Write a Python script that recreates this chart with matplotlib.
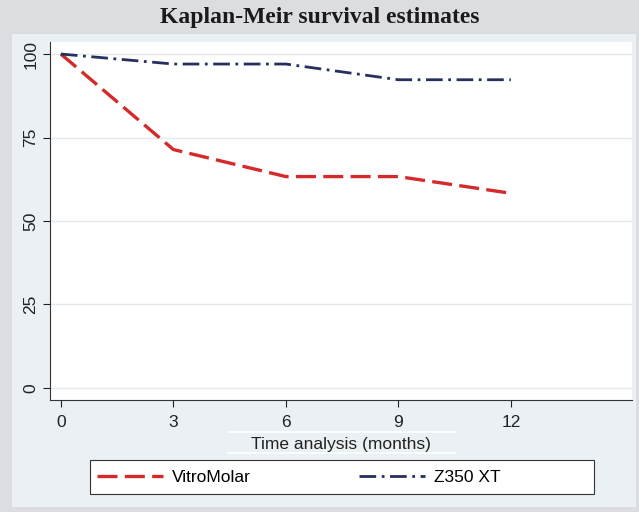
import numpy as np
import matplotlib
matplotlib.use("Agg")
import matplotlib.pyplot as plt
from matplotlib.patches import Rectangle
from matplotlib.lines import Line2D

# survival estimates (%)
months = [0, 3, 6, 9, 12]
vitromolar = [100, 71.4, 63.3, 63.3, 58.3]
z350 = [100, 97.0, 97.0, 92.3, 92.3]
yticks = [0, 25, 50, 75, 100]

plt.rcParams['font.family'] = ['Liberation Sans', 'DejaVu Sans']

W, H = 639, 512
fig = plt.figure(figsize=(W / 100, H / 100), dpi=100)
fig.patch.set_facecolor('#dcdde0')

# light blue inner panel
fig.patches.append(Rectangle((12 / W, 1 - 507 / H), 624 / W, 473 / H,
                             transform=fig.transFigure, facecolor='#eaf0f3',
                             edgecolor='none', zorder=-5))

fig.text(0.5, 1 - 17 / H, 'Kaplan-Meir survival estimates', ha='center', va='center',
         fontsize=17, fontweight='bold', family=['Liberation Serif'], color='#1a1a1a')

ax = fig.add_axes([50 / W, 1 - 400 / H, 582 / W, 358 / H])
ax.set_facecolor('white')

l1, = ax.plot(months, vitromolar, color='#d42a2a', lw=2.4, dashes=(6, 2.2))
l2, = ax.plot(months, z350, color='#26305e', lw=2.0, dashes=(6, 2, 1, 2))

ax.set_xlim(-0.29, 15.23)
ax.set_ylim(-3.6, 103.6)
ax.set_xticks(months)
ax.set_yticks(yticks)
ax.tick_params(axis='both', direction='out', length=5, width=0.8, labelsize=12.5, colors='#222222')
ax.tick_params(axis='x', pad=6)
for lab in ax.get_yticklabels():
    lab.set_rotation(90)
    lab.set_va('center')
ax.yaxis.grid(True, color='#e4e9ee', lw=1)
ax.set_axisbelow(True)
for s in ['top', 'right']:
    ax.spines[s].set_visible(False)
for s in ['left', 'bottom']:
    ax.spines[s].set_color('#333333')
    ax.spines[s].set_linewidth(0.8)

ax.set_xlabel('Time analysis (months)', fontsize=12.5, color='#222222', labelpad=5)

# thin white rules around the axis title
for yy in (432, 453):
    fig.lines.append(Line2D([228 / W, 455 / W], [1 - yy / H] * 2, transform=fig.transFigure,
                            color='white', lw=1.2))

# legend box
fig.patches.append(Rectangle((90 / W, 1 - 494 / H), 504 / W, 34 / H,
                             transform=fig.transFigure, facecolor='white',
                             edgecolor='#333333', lw=0.8))
leg = fig.legend([l1, l2], ['VitroMolar', 'Z350 XT'], loc='center left',
                 bbox_to_anchor=(90 / W, 1 - 477 / H), ncol=2, frameon=False,
                 fontsize=12.5, handlelength=3.8, handletextpad=0.5,
                 columnspacing=6.25, borderaxespad=0)

fig.savefig('out.png', dpi=100, facecolor=fig.get_facecolor())
